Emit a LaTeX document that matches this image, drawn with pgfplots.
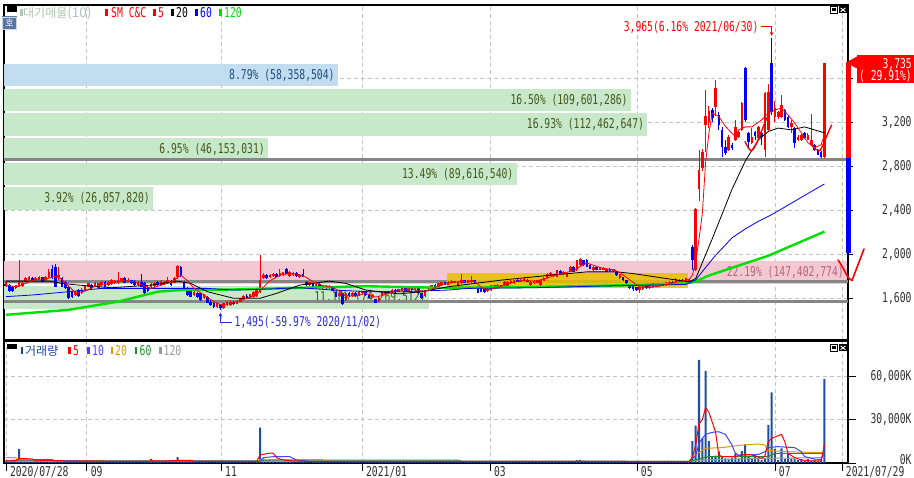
\documentclass[border=0pt]{standalone}
\usepackage{fontspec}
\setmainfont{DejaVu Sans Mono}[FakeStretch=0.72]
\newfontfamily\kr{Noto Sans CJK KR}
\usepackage{pgfplots}
\usepackage{pgfplotstable}
\usetikzlibrary{arrows.meta}
\pgfplotsset{compat=1.18}

\newcommand\cf{\fontsize{13.5pt}{14pt}\selectfont}
\newcommand\krf{\kr\fontsize{12pt}{13pt}\selectfont}

\definecolor{candleup}{HTML}{FF0000}
\definecolor{candledn}{HTML}{0000FF}
\definecolor{maonetwenty}{HTML}{00E000}
\definecolor{vpgreen}{HTML}{C8E8CA}
\definecolor{vpblue}{HTML}{C2DCF0}
\definecolor{vppink}{HTML}{F3C8D2}
\definecolor{vptext}{HTML}{44581C}
\definecolor{vptextblue}{HTML}{1E4C80}
\definecolor{vptextpink}{HTML}{B06874}
\definecolor{levelgray}{HTML}{868686}
\definecolor{gridgray}{HTML}{C4C4C4}
\definecolor{axistext}{HTML}{303030}
\definecolor{volbar}{HTML}{1F4F9F}
\definecolor{vmaten}{HTML}{4444FF}
\definecolor{vmatwenty}{HTML}{E09A00}
\definecolor{vmasixty}{HTML}{208A30}
\definecolor{vmaonetwenty}{HTML}{999999}
\definecolor{boxgold}{HTML}{E8C000}
\definecolor{palelegend}{HTML}{AFC6AF}
\definecolor{volname}{HTML}{1A4A9A}
\definecolor{iconblue}{HTML}{5676A6}
\definecolor{lowblue}{HTML}{2A2AE0}

% daily candles: day index, open, high, low, close
\pgfplotstableread{
i o h l c
0 1710 1760 1700 1750
3 1690 1725 1680 1720
4 1705 1950 1700 1750
5 1710 1745 1705 1740
6 1750 1790 1745 1780
7 1765 1800 1760 1790
9 1765 1790 1760 1785
10 1770 1800 1765 1795
12 1765 1800 1760 1795
13 1790 1870 1785 1840
16 1780 1880 1770 1810
21 1630 1670 1620 1660
23 1645 1690 1640 1675
24 1675 1725 1670 1720
25 1705 1740 1700 1735
27 1705 1745 1700 1740
28 1690 1740 1685 1735
29 1720 1755 1715 1750
31 1720 1755 1715 1750
32 1730 1775 1725 1765
33 1735 1770 1730 1760
34 1735 1840 1730 1770
35 1750 1785 1745 1780
37 1750 1780 1745 1770
40 1720 1760 1715 1750
44 1700 1735 1695 1730
45 1710 1745 1705 1740
47 1720 1765 1715 1760
48 1730 1760 1725 1750
49 1735 1795 1730 1765
51 1740 1790 1735 1780
52 1790 1900 1775 1890
57 1630 1665 1625 1660
60 1600 1635 1595 1630
64 1525 1560 1515 1555
66 1510 1560 1505 1555
67 1540 1575 1530 1570
68 1535 1580 1530 1570
70 1550 1580 1545 1575
71 1570 1605 1565 1600
72 1595 1630 1590 1625
74 1605 1640 1600 1635
75 1610 1665 1600 1660
76 1620 1680 1615 1675
77 1660 1996 1650 1765
78 1780 1830 1775 1810
80 1790 1825 1785 1815
81 1800 1830 1795 1820
83 1800 1870 1795 1830
84 1810 1840 1805 1835
86 1800 1845 1795 1840
87 1810 1835 1805 1830
89 1790 1820 1785 1815
92 1720 1750 1715 1745
94 1705 1735 1700 1730
96 1690 1725 1685 1720
98 1690 1720 1685 1710
101 1620 1655 1615 1650
103 1580 1645 1575 1640
105 1620 1660 1615 1650
107 1630 1665 1625 1660
108 1645 1670 1640 1665
111 1610 1640 1605 1630
113 1570 1610 1565 1600
114 1630 1665 1625 1660
115 1640 1670 1635 1665
117 1650 1680 1645 1675
119 1660 1685 1655 1680
120 1670 1695 1665 1690
122 1665 1705 1660 1700
124 1675 1710 1670 1705
127 1620 1670 1615 1665
128 1680 1710 1675 1705
129 1700 1725 1695 1720
131 1705 1740 1700 1735
132 1725 1750 1720 1745
134 1725 1755 1720 1750
135 1740 1765 1735 1760
136 1740 1760 1735 1755
137 1710 1755 1705 1750
138 1735 1825 1730 1765
140 1740 1770 1735 1765
141 1745 1800 1740 1770
146 1665 1690 1660 1685
147 1675 1725 1670 1720
148 1695 1725 1690 1720
149 1700 1730 1695 1725
151 1720 1755 1715 1750
152 1705 1760 1700 1750
153 1735 1765 1730 1760
154 1735 1770 1730 1765
156 1750 1775 1745 1770
157 1755 1790 1750 1775
159 1720 1760 1715 1750
160 1735 1765 1730 1760
161 1740 1770 1735 1765
162 1720 1770 1715 1765
163 1760 1790 1755 1785
164 1780 1830 1775 1825
165 1810 1840 1805 1830
166 1800 1825 1795 1820
167 1795 1860 1790 1855
169 1820 1850 1815 1840
170 1795 1830 1790 1825
171 1840 1890 1835 1885
173 1855 1950 1850 1945
174 1900 1965 1895 1960
178 1855 1890 1850 1885
180 1860 1885 1855 1880
181 1860 1880 1855 1875
182 1840 1875 1835 1870
184 1845 1870 1840 1865
186 1780 1825 1775 1820
192 1675 1710 1645 1705
193 1680 1725 1675 1720
195 1690 1715 1685 1710
197 1705 1730 1700 1725
198 1710 1740 1705 1735
200 1720 1750 1715 1745
201 1730 1755 1725 1750
203 1750 1780 1745 1775
204 1755 1775 1750 1770
206 1755 1785 1750 1780
207 1760 1780 1755 1775
209 1855 2420 1850 2410
210 2590 2950 2480 2770
211 2780 2960 2760 2930
212 3177 3490 2934 3258
213 3200 3350 3150 3300
215 3340 3580 3258 3510
219 2951 3080 2940 3068
221 3041 3220 3030 3158
222 3068 3120 3060 3113
223 3131 3380 3120 3375
226 3014 3150 3000 3068
228 3059 3170 3050 3158
230 2950 3475 2888 3465
231 3131 3550 3120 3474
233 3248 3390 3200 3330
234 3248 3300 3230 3293
235 3248 3450 3240 3360
238 3158 3220 3100 3190
240 3041 3080 3030 3068
241 3041 3090 3030 3086
243 3041 3100 3035 3086
244 2996 3275 2990 3041
248 2880 3735 2875 3735
}\upcandles

\pgfplotstableread{
i o h l c
1 1720 1730 1655 1665
2 1705 1715 1660 1670
8 1780 1790 1755 1760
11 1790 1795 1745 1750
14 1870 1900 1775 1780
15 1885 1910 1700 1705
17 1780 1790 1700 1705
18 1750 1760 1680 1690
19 1705 1710 1590 1600
20 1660 1670 1600 1615
22 1675 1680 1615 1620
26 1720 1730 1685 1690
30 1750 1760 1700 1705
36 1780 1790 1735 1740
38 1765 1770 1730 1735
39 1760 1770 1715 1720
41 1750 1825 1700 1705
42 1735 1745 1630 1645
43 1705 1710 1660 1670
46 1750 1760 1715 1720
50 1760 1770 1715 1720
53 1885 1890 1795 1800
54 1750 1760 1670 1675
55 1690 1700 1620 1630
56 1675 1680 1610 1615
58 1650 1660 1605 1615
59 1645 1650 1575 1585
61 1615 1620 1555 1560
62 1570 1580 1530 1540
63 1560 1565 1515 1525
65 1545 1550 1495 1510
69 1570 1575 1540 1545
73 1625 1635 1600 1605
79 1810 1820 1775 1780
82 1825 1830 1790 1795
85 1870 1875 1820 1825
88 1830 1835 1795 1800
90 1820 1870 1790 1795
91 1750 1760 1715 1720
93 1735 1740 1700 1705
95 1730 1735 1695 1700
97 1715 1720 1685 1690
99 1700 1705 1665 1670
100 1660 1665 1610 1615
102 1645 1650 1540 1545
104 1650 1655 1610 1620
106 1650 1655 1615 1620
109 1660 1665 1625 1630
110 1630 1640 1600 1605
112 1590 1595 1555 1560
116 1665 1670 1640 1645
118 1675 1680 1650 1655
121 1705 1710 1660 1665
123 1700 1705 1670 1675
125 1690 1700 1640 1645
126 1645 1650 1595 1600
130 1720 1730 1695 1700
133 1745 1750 1720 1725
139 1765 1770 1735 1740
142 1765 1770 1740 1745
143 1705 1710 1645 1650
144 1690 1695 1655 1660
145 1690 1695 1650 1660
150 1720 1725 1695 1700
155 1770 1775 1745 1750
158 1770 1775 1745 1750
168 1850 1860 1820 1825
172 1885 1890 1835 1840
175 1945 1950 1895 1900
176 1945 1955 1880 1885
177 1900 1910 1865 1870
179 1880 1885 1855 1860
183 1870 1875 1845 1850
185 1840 1845 1805 1810
187 1790 1795 1760 1765
188 1765 1770 1730 1735
189 1720 1725 1685 1690
190 1710 1715 1670 1680
191 1700 1705 1670 1675
194 1710 1715 1685 1690
196 1735 1740 1700 1705
199 1730 1735 1710 1715
202 1750 1755 1730 1735
205 1770 1775 1750 1755
208 2070 2080 1855 1950
214 3308 3330 3200 3237
216 3266 3290 3130 3176
217 3131 3160 2888 2978
218 2978 3040 2900 2924
220 2996 3010 2950 2969
224 3690 3703 3200 3221
225 3104 3110 2960 3023
227 3116 3125 3040 3071
229 3104 3110 2990 3068
232 3735 3965 3266 3293
236 3311 3320 3210 3221
237 3248 3260 3150 3158
239 3149 3160 2969 3014
242 3104 3110 3050 3059
245 2996 3000 2940 2951
246 2951 2960 2900 2906
247 2933 2940 2875 2888
}\dncandles

\pgfplotsset{
  panel/.style={anchor=south west, width=844pt, scale only axis,
    xmin=-0.6, xmax=255.15},
  pricelims/.style={ymin=1221, ymax=4266},
  candlewick/.style={draw=none, mark=none, mark size=0pt, forget plot,
    error bars/.cd, y dir=plus, y explicit, error mark=none,
    error bar style={draw=#1, line width=0.9pt}},
  candlebody/.style={draw=none, mark=none, mark size=0pt, forget plot,
    error bars/.cd, y dir=plus, y explicit, error mark=none,
    error bar style={draw=#1, line width=2.6pt}},
  band/.style={xbar, bar shift=0pt, bar width=205, draw=none, fill=#1},
  bandlabel/.style={nodes near coords style={anchor=east, font=\cf,
    text=#1, inner sep=0pt, xshift=-3pt}},
}

\begin{document}
\begin{tikzpicture}[x=1pt,y=1pt]
\useasboundingbox (0,0) rectangle (914,478);
\fill[white] (0,0) rectangle (914,478);

% ---------- price panel: frame, grid and price scale ----------
\begin{axis}[panel, pricelims, at={(4pt,138pt)}, height=335pt,
  axis line style={black, line width=1.6pt},
  xtick={24.5,65.2,107.9,146.7,191.2,233,253.3}, xticklabels={},
  x tick style={draw=none},
  ytick={1600,2000,2400,2800,3200,3600},
  yticklabels={{1,600},{2,000},{2,400},{2,800},{3,200},{}},
  scaled y ticks=false,
  ytick pos=right, yticklabel pos=right,
  tick align=outside, major tick length=5pt,
  y tick style={black, line width=0.8pt},
  grid=major,
  major grid style={gridgray, line width=0.8pt, dash pattern=on 4pt off 3pt},
  yticklabel style={font=\cf, text=axistext, anchor=east, xshift=62pt}]
\end{axis}

% ---------- volume by price (10 bands) ----------
\begin{axis}[at={(4pt,138pt)}, anchor=south west, width=844pt, height=335pt,
  scale only axis, xmin=0, xmax=147.58e6, pricelims, hide axis]
\addplot[band=vpblue, nodes near coords={8.79\% (58,358,504)}, bandlabel=vptextblue]
  coordinates {(58358504,3628)};
\addplot[band=vpgreen, nodes near coords={16.50\% (109,601,286)}, bandlabel=vptext]
  coordinates {(109601286,3404)};
\addplot[band=vpgreen, nodes near coords={16.93\% (112,462,647)}, bandlabel=vptext]
  coordinates {(112462647,3179)};
\addplot[band=vpgreen, nodes near coords={6.95\% (46,153,031)}, bandlabel=vptext]
  coordinates {(46153031,2955)};
\addplot[band=vpgreen, nodes near coords={13.49\% (89,616,540)}, bandlabel=vptext]
  coordinates {(89616540,2730)};
\addplot[band=vpgreen, nodes near coords={3.92\% (26,057,820)}, bandlabel=vptext]
  coordinates {(26057820,2506)};
\addplot[band=vppink, nodes near coords={22.19\% (147,402,774)}, bandlabel=vptextpink]
  coordinates {(147402774,1832)};
\addplot[band=vpgreen, nodes near coords={11.18\% (74,269,512)}, bandlabel=vptext]
  coordinates {(74269512,1607)};
\end{axis}

% ---------- candles and moving averages ----------
\begin{axis}[panel, pricelims, at={(4pt,138pt)}, height=335pt, hide axis, clip=false]
% support / resistance levels
\addplot[levelgray, line width=3pt] coordinates {(-0.6,2865) (255.15,2865)};
\addplot[levelgray, line width=3pt] coordinates {(-0.6,1755) (255.15,1755)};
\addplot[levelgray, line width=3pt] coordinates {(-0.6,1570) (255.15,1570)};
% consolidation box
\fill[boxgold, opacity=0.85] (axis cs:133.6,1691) rectangle (axis cs:206.7,1827);

% candles
\addplot[candlewick=candleup] table[x=i, y=l, y error expr=\thisrow{h}-\thisrow{l}] {\upcandles};
\addplot[candlewick=candledn] table[x=i, y=l, y error expr=\thisrow{h}-\thisrow{l}] {\dncandles};
\addplot[candlebody=candleup] table[x=i, y=o, y error expr=\thisrow{c}-\thisrow{o}] {\upcandles};
\addplot[candlebody=candledn] table[x=i, y=c, y error expr=\thisrow{o}-\thisrow{c}] {\dncandles};

% 120-day
\addplot[maonetwenty, line width=2.4pt] coordinates {
(0,1450)(19,1495)(34,1570)(46,1660)(53,1675)(69,1680)(89,1695)(109,1710)(133,1695)
(150,1700)(170,1708)(190,1720)(206,1735)(209,1753)(213,1807)(231,1987)(248,2206)};
% 60-day
\addplot[candledn, line width=0.8pt] coordinates {
(0,1615)(8,1630)(19,1660)(29,1690)(41,1690)(52,1690)(61,1690)(69,1675)(79,1684)
(89,1696)(99,1675)(110,1660)(120,1660)(134,1675)(140,1690)(160,1696)(180,1711)
(206,1726)(209,1767)(212,1880)(215,1990)(218,2085)(220,2150)(224,2230)(228,2300)
(232,2360)(235,2412)(240,2500)(244,2570)(248,2639)};
% 20-day
\addplot[black, line width=0.8pt] coordinates {
(0,1756)(13,1756)(17,1735)(22,1720)(32,1696)(44,1720)(52,1756)(56,1735)(61,1660)
(69,1600)(77,1600)(82,1645)(89,1720)(98,1756)(103,1735)(109,1675)(119,1640)(126,1660)
(134,1705)(150,1765)(165,1810)(176,1840)(185,1840)(190,1825)(200,1780)(207,1750)
(209,1780)(214,2140)(220,2591)(224,2846)(228,3041)(231,3116)(234,3147)(238,3131)
(242,3158)(245,3131)(248,3104)};
% 5-day
\addplot[candleup, line width=0.8pt] coordinates {
(0,1720)(3,1705)(6,1735)(9,1775)(12,1775)(15,1800)(17,1770)(19,1710)(21,1650)(24,1665)
(27,1710)(30,1725)(33,1745)(36,1760)(39,1750)(42,1710)(44,1690)(47,1720)(50,1745)
(53,1810)(55,1760)(57,1690)(60,1630)(62,1590)(64,1555)(66,1535)(68,1555)(71,1580)
(74,1610)(76,1640)(78,1700)(80,1760)(83,1810)(86,1825)(89,1815)(91,1790)(93,1750)
(96,1715)(99,1700)(101,1665)(103,1620)(106,1620)(109,1645)(112,1610)(114,1625)
(117,1655)(120,1680)(123,1685)(126,1665)(128,1670)(131,1710)(134,1735)(137,1750)
(140,1755)(142,1755)(144,1700)(146,1675)(148,1690)(151,1720)(154,1750)(157,1765)
(160,1755)(163,1775)(166,1805)(169,1830)(172,1850)(174,1890)(176,1920)(178,1900)
(181,1870)(184,1860)(186,1835)(188,1790)(190,1745)(192,1705)(194,1695)(197,1705)
(200,1725)(203,1745)(206,1765)(207,1770)(208,1810)(209,1934)(210,2137)(211,2367)
(212,2834)(213,3100)(214,3284)(216,3253)(218,3163)(219,3131)(221,3068)(222,3131)
(224,3158)(226,3158)(229,3222)(231,3284)(233,3311)(235,3330)(237,3266)(239,3194)
(241,3104)(243,3014)(245,2969)(247,2996)(248,3086)};

% day range against the previous close (limit band)
\addplot[candleup, line width=4.5pt] coordinates {(255.3,2875) (255.3,3735)};
\addplot[candledn, line width=4.5pt] coordinates {(255.3,2012) (255.3,2875)};

% high / low call-outs
\draw[candleup, line width=0.8pt, -{Stealth[length=4pt,width=4pt]}]
  ([xshift=-11pt]axis cs:232,4067) -- (axis cs:232,4067) -- (axis cs:232,3985);
\node[anchor=east, font=\cf, text=candleup, inner sep=0pt]
  at ([xshift=-13pt]axis cs:232,4067) {3,965(6.16\% 2021/06/30)};
\draw[lowblue, line width=0.8pt, -{Stealth[length=4pt,width=4pt]}]
  ([xshift=12pt]axis cs:65,1385) -- (axis cs:65,1385) -- (axis cs:65,1470);
\node[anchor=west, font=\cf, text=lowblue, inner sep=0pt]
  at ([xshift=14pt]axis cs:65,1385) {1,495(-59.97\% 2020/11/02)};
\end{axis}

% ---------- volume panel ----------
\begin{axis}[panel, at={(4pt,15pt)}, height=122pt, ymin=0, ymax=84332,
  axis line style={black, line width=1.6pt},
  xtick={0,24.5,65.2,107.9,146.7,191.2,233,253.3},
  xticklabels={2020/07/28,09,11,2021/01,03,05,07,2021/07/29},
  xtick pos=bottom, ytick pos=right, yticklabel pos=right,
  ytick={0,30000,60000}, yticklabels={\raisebox{6.5pt}{0K},{30,000K},{60,000K}},
  scaled y ticks=false,
  tick align=outside, major tick length=8pt,
  tick style={black, line width=0.8pt},
  grid=major,
  major grid style={gridgray, line width=0.8pt, dash pattern=on 4pt off 3pt},
  xticklabel style={font=\cf, text=axistext, anchor=north west, xshift=0.5pt, yshift=8pt},
  yticklabel style={font=\cf, text=axistext, anchor=east, xshift=59pt}]
\addplot[ybar, bar shift=0pt, bar width=0.62, fill=volbar, draw=none] coordinates {
(0,1500)(1,1300)(2,1200)(3,1400)(4,9700)(5,2200)(6,1500)(7,1300)(8,1100)(9,1000)
(10,1100)(11,1200)(12,2800)(13,1600)(14,1800)(15,1700)(16,1300)(17,1200)(18,1100)(19,1500)
(20,1100)(21,900)(22,1000)(23,900)(24,1000)(25,900)(26,800)(27,900)(28,1000)(29,900)
(30,800)(31,900)(32,1000)(33,900)(34,1300)(35,900)(36,800)(37,900)(38,800)(39,900)
(40,800)(41,1200)(42,1400)(43,1000)(44,2800)(45,1100)(46,900)(47,900)(48,800)(49,1000)
(50,900)(51,1100)(52,4100)(53,2200)(54,1500)(55,1300)(56,1100)(57,900)(58,1000)(59,1200)
(60,900)(61,1200)(62,1100)(63,1000)(64,1100)(65,1300)(66,1100)(67,900)(68,900)(69,800)
(70,900)(71,900)(72,1000)(73,800)(74,900)(75,1100)(76,1200)(77,24400)(78,3000)(79,2500)
(80,2200)(81,2000)(82,1800)(83,1600)(84,1400)(85,1500)(86,1300)(87,1200)(88,1100)(89,1000)
(90,1200)(91,1100)(92,900)(93,900)(94,800)(95,900)(96,800)(97,900)(98,800)(99,900)
(100,1000)(101,900)(102,1300)(103,1000)(104,900)(105,800)(106,800)(107,900)(108,900)(109,800)
(110,900)(111,800)(112,1100)(113,900)(114,1000)(115,900)(116,800)(117,900)(118,800)(119,800)
(120,900)(121,900)(122,800)(123,800)(124,900)(125,1000)(126,1100)(127,900)(128,900)(129,800)
(130,800)(131,900)(132,900)(133,800)(134,900)(135,900)(136,800)(137,1000)(138,1400)(139,1000)
(140,900)(141,1100)(142,900)(143,1300)(144,1000)(145,900)(146,800)(147,900)(148,800)(149,800)
(150,800)(151,900)(152,1000)(153,900)(154,900)(155,800)(156,800)(157,900)(158,800)(159,900)
(160,800)(161,800)(162,1000)(163,900)(164,1200)(165,1000)(166,900)(167,1300)(168,1100)(169,900)
(170,900)(171,1400)(172,1300)(173,2000)(174,2200)(175,1600)(176,1500)(177,1200)(178,1000)(179,900)
(180,900)(181,800)(182,900)(183,800)(184,800)(185,1000)(186,1100)(187,900)(188,1000)(189,1200)
(190,1000)(191,900)(192,1400)(193,1000)(194,800)(195,800)(196,900)(197,800)(198,800)(199,700)
(200,800)(201,1400)(202,700)(203,900)(204,800)(205,700)(206,900)(207,1000)(208,15200)(209,25800)
(210,71200)(211,17050)(212,63600)(213,15200)(214,4380)(215,5070)(216,7830)(217,4380)(218,3230)(219,2760)
(220,3690)(221,6680)(222,3000)(223,8290)(224,12900)(225,4380)(226,2760)(227,5530)(228,2760)(229,2070)
(230,3230)(231,26270)(232,48850)(233,9680)(234,2070)(235,10140)(236,2760)(237,6680)(238,3230)(239,2760)
(240,2070)(241,2760)(242,1380)(243,2760)(244,1380)(245,2070)(246,1380)(247,2070)(248,58060)};
% volume averages
\addplot[vmaonetwenty, line width=1pt] coordinates {
(0,1100)(207,1100)(211,2070)(220,2760)(231,3230)(248,3690)};
\addplot[vmasixty, line width=1pt] coordinates {
(0,1600)(60,1500)(77,1500)(78,1900)(137,1900)(138,1200)(207,1100)(211,3230)(213,4380)
(231,4380)(233,6680)(248,6680)};
\addplot[vmatwenty, line width=1pt] coordinates {
(0,3660)(3,3660)(4,1500)(76,1200)(77,2300)(96,2300)(97,1200)(207,1100)(209,5530)
(211,8750)(212,10140)(217,10600)(223,12400)(228,13100)(230,12400)(231,8750)(233,8300)
(237,7800)(243,7370)(248,7140)};
\addplot[vmaten, line width=1pt] coordinates {
(0,1500)(4,2200)(14,2300)(15,1400)(77,1200)(78,3690)(81,4380)(86,4380)(88,2070)(92,1200)
(207,1000)(209,5000)(210,13500)(211,17000)(212,19800)(214,21200)(216,21600)(218,19800)
(220,12400)(221,6700)(222,5500)(228,5900)(230,7800)(231,10600)(234,11300)(239,10600)
(241,7800)(242,4400)(245,2760)(247,2400)(248,7670)};
\addplot[candleup, line width=1pt] coordinates {
(0,1600)(3,1500)(4,3200)(8,2760)(9,1400)(12,1700)(16,1700)(18,1300)(43,1100)(44,1500)
(48,1300)(52,1800)(56,1900)(57,1100)(76,1000)(77,5600)(80,6900)(81,6700)(82,3700)(83,2760)
(85,1700)(90,1200)(207,1000)(208,4000)(209,12400)(210,27000)(211,30000)(212,38200)
(213,35000)(215,21600)(216,5500)(217,4400)(220,4400)(222,5000)(224,5900)(226,5500)
(229,3200)(230,5000)(231,14700)(232,17050)(235,19800)(236,14700)(237,6700)(239,3700)
(241,2070)(244,1380)(247,1380)(248,12900)};
\end{axis}

% ---------- legends and controls ----------
% price panel header
\fill[black] (7,466.3) rectangle (17,473);
\fill[palelegend] (20,462) rectangle (22.5,468.5);
\node[anchor=west, inner sep=0pt, text=palelegend] at (23,465)
  {\krf 대기매물\cf(10)};
\fill[candleup] (105,461.5) rectangle (108,468.5);
\node[anchor=west, inner sep=0pt, text=candleup, font=\cf] at (111,465) {SM C\&C};
\fill[candleup] (153,461.5) rectangle (156,468.5);
\node[anchor=west, inner sep=0pt, text=candleup, font=\cf] at (158,465) {5};
\fill[black] (171,461.5) rectangle (174,468.5);
\node[anchor=west, inner sep=0pt, text=black, font=\cf] at (176,465) {20};
\fill[candledn] (195,461.5) rectangle (198,468.5);
\node[anchor=west, inner sep=0pt, text=candledn, font=\cf] at (200,465) {60};
\fill[maonetwenty] (219,461.5) rectangle (222,468.5);
\node[anchor=west, inner sep=0pt, text=maonetwenty, font=\cf] at (224,465) {120};
% quote button
\fill[iconblue] (2,448) rectangle (17,461.5);
\draw[white!70!iconblue, line width=0.6pt] (2.5,448.5) rectangle (16.5,461);
\node[text=white, inner sep=0pt, font=\kr\fontsize{9pt}{10pt}\selectfont] at (9.5,454.8) {호};

% volume panel header
\fill[black] (7,129) rectangle (17,134);
\fill[volname] (20.5,123.5) rectangle (22.8,130.5);
\node[anchor=west, inner sep=0pt, text=volname] at (25,127) {\krf 거래량};
\fill[candleup] (68.3,123.5) rectangle (70.6,130.5);
\node[anchor=west, inner sep=0pt, text=candleup, font=\cf] at (73,127) {5};
\fill[vmaten] (87.3,123.5) rectangle (89.6,130.5);
\node[anchor=west, inner sep=0pt, text=vmaten, font=\cf] at (92,127) {10};
\fill[vmatwenty] (110.7,123.5) rectangle (113,130.5);
\node[anchor=west, inner sep=0pt, text=vmatwenty, font=\cf] at (115,127) {20};
\fill[vmasixty] (135,123.5) rectangle (137.3,130.5);
\node[anchor=west, inner sep=0pt, text=vmasixty, font=\cf] at (139.5,127) {60};
\fill[vmaonetwenty] (159.3,123.5) rectangle (161.6,130.5);
\node[anchor=west, inner sep=0pt, text=vmaonetwenty, font=\cf] at (163.5,127) {120};

% window buttons
\foreach \yb in {464.7,126.7}{
  \draw[black, line width=0.7pt, fill=white] (830,\yb) rectangle (837.5,\yb+7);
  \fill[black] (831.8,\yb+1.8) rectangle (835.7,\yb+5.2);
  \fill[black] (839,\yb) rectangle (847,\yb+7);
  \draw[white, line width=0.9pt] (840.6,\yb+1.6) -- (845.4,\yb+5.4)
                                 (840.6,\yb+5.4) -- (845.4,\yb+1.6);
}

% current price tag
\fill[candleup] (857,395.3) rectangle (914,423);
\fill[candleup] (846,415.5) -- (857,421.5) -- (857,409.5) -- cycle;
\node[anchor=east, inner sep=0pt, text=white, font=\cf] at (912,413.5) {3,735};
\node[anchor=east, inner sep=0pt, text=white, font=\cf] at (912,401.5) {( 29.91\%)};

% hand-drawn check marks
\draw[candleup, line width=1.6pt, line cap=round, line join=round]
  (838,218) .. controls (845,208) and (848,198) .. (852,197.5) -- (864,229);
\draw[candleup, line width=1.4pt, line cap=round, line join=round]
  (745,336.3) .. controls (748,331) and (749,327.5) .. (752,327.3)
  .. controls (757,332) and (762,350) .. (767.3,360.7);
\draw[candleup, line width=1.4pt, line cap=round, line join=round]
  (811.7,333) .. controls (814,329) and (817,327.3) .. (820,327.3)
  .. controls (824,334) and (828,346) .. (831.7,353);
\end{tikzpicture}
\end{document}
